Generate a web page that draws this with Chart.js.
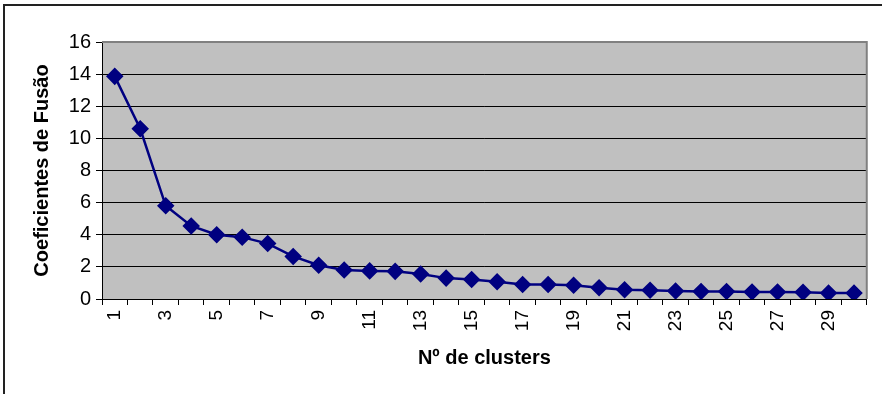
<!DOCTYPE html>
<html lang="pt">
  <head>
    <meta charset="UTF-8" />
    <title>Coeficientes de Fusão</title>
    <script src="https://cdn.jsdelivr.net/npm/chart.js"></script>
    <style>
      html, body { margin: 0; padding: 0; background: #fff; }
      #wrap { width: 882px; height: 394px; }
    </style>
  </head>
  <body>
    <div id="wrap"><canvas id="myChart"></canvas></div>
    <script>
      // nº de clusters
      var clusters = [];
      for (var i = 1; i <= 30; i++) clusters.push(String(i));

      // coeficientes de fusão
      var coeficientes = [
        13.86, 10.6, 5.8, 4.55, 4.0, 3.85, 3.45, 2.65, 2.1, 1.8,
        1.75, 1.72, 1.55, 1.3, 1.22, 1.07, 0.9, 0.9, 0.85, 0.7,
        0.58, 0.55, 0.5, 0.47, 0.47, 0.44, 0.44, 0.42, 0.37, 0.37
      ];

      var yTicks = [0, 2, 4, 6, 8, 10, 12, 14, 16];

      // gray plot area + outer frame
      var bgPlugin = {
        id: "bg",
        beforeDraw: function (chart) {
          var c = chart.ctx, a = chart.chartArea;
          c.save();
          c.fillStyle = "#c0c0c0";
          c.fillRect(a.left, a.top, a.right - a.left, a.bottom - a.top);
          c.strokeStyle = "#222";
          c.lineWidth = 2;
          c.beginPath();
          c.moveTo(4, 400);
          c.lineTo(4, 5);
          c.lineTo(900, 5);
          c.stroke();
          c.restore();
        },
        afterDatasetsDraw: function (chart) {
          var c = chart.ctx, a = chart.chartArea;
          c.save();
          c.strokeStyle = "#808080";
          c.lineWidth = 2;
          c.beginPath();
          c.moveTo(a.left, a.top);
          c.lineTo(a.right, a.top);
          c.lineTo(a.right, a.bottom);
          c.stroke();
          c.restore();
        }
      };

      var fam = "Liberation Sans, Arial, sans-serif";
      var ctx = document.getElementById("myChart").getContext("2d");
      var chart = new Chart(ctx, {
        type: "line",
        data: {
          labels: clusters,
          datasets: [{
            data: coeficientes,
            borderColor: "#000080",
            backgroundColor: "#000080",
            borderWidth: 2.5,
            pointStyle: "rectRot",
            pointRadius: 7,
            pointHoverRadius: 7,
            tension: 0,
            fill: false
          }]
        },
        plugins: [bgPlugin],
        options: {
          responsive: true,
          maintainAspectRatio: false,
          animation: false,
          layout: { padding: { top: 42, right: 11, left: 0, bottom: 0 } },
          plugins: { legend: { display: false }, tooltip: { enabled: false } },
          scales: {
            x: {
              offset: true,
              grid: { offset: true, drawOnChartArea: false, drawTicks: true, tickLength: 6, color: "#000" },
              border: { color: "#000", width: 1 },
              ticks: {
                color: "#000",
                font: { family: fam, size: 19 },
                minRotation: 90,
                maxRotation: 90,
                autoSkip: false,
                padding: 5,
                callback: function (v, idx) { return idx % 2 === 0 ? clusters[idx] : ""; }
              },
              title: {
                display: true,
                text: "Nº de clusters",
                color: "#000",
                font: { family: fam, size: 20, weight: "bold" },
                padding: { top: 0, bottom: 24 }
              },
              afterFit: function (s) { s.height = 394 - 299; }
            },
            y: {
              min: 0,
              max: 16,
              afterBuildTicks: function (s) { s.ticks = yTicks.map(function (v) { return { value: v }; }); },
              grid: {
                color: function (c) { return c.tick && c.tick.value === 16 ? "#808080" : "#000"; },
                tickColor: "#000",
                tickLength: 6,
                lineWidth: 1
              },
              border: { color: "#000", width: 1 },
              ticks: {
                color: "#000",
                font: { family: fam, size: 20 },
                padding: 5
              },
              title: {
                display: true,
                text: "Coeficientes de Fusão",
                color: "#000",
                font: { family: fam, size: 20, weight: "bold" },
                padding: { top: 30, bottom: 0 }
              },
              afterFit: function (s) { s.width = 102; }
            }
          }
        }
      });
    </script>
  </body>
</html>
